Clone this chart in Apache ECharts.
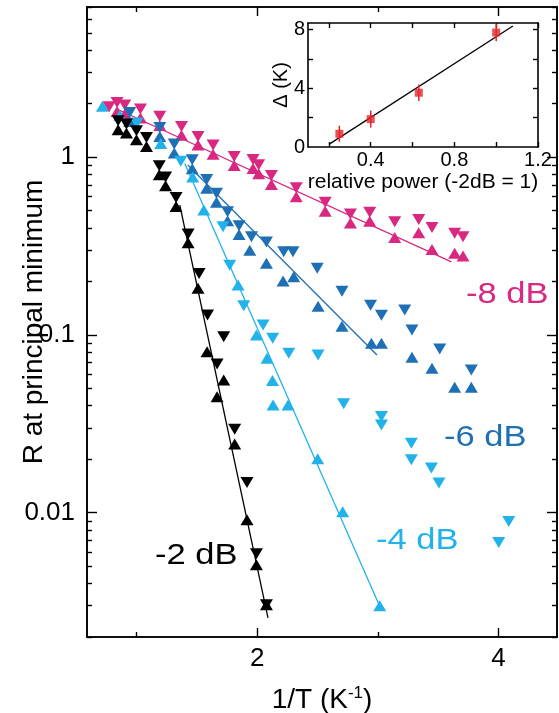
<!DOCTYPE html>
<html><head><meta charset="utf-8">
<script src="https://cdn.jsdelivr.net/npm/echarts@6/dist/echarts.min.js"></script>
<style>html,body{margin:0;padding:0;background:#fff}#c{width:559px;height:713px}</style>
</head><body><div id="c"></div>
<script>
// ---- main panel data (x = 1/T in 1/K, y = R at principal minimum) ----
const pinkDownX = [0.773,0.839,0.903,1.033,1.193,1.373,1.510,1.635,1.810,1.966,2.013,2.118,2.324,2.564,2.773,2.933,3.140,3.339,3.449,3.637,3.706];
const pinkDownY = [1.92,2.03,1.97,1.87,1.70,1.49,1.31,1.17,1.01,0.972,0.908,0.790,0.674,0.559,0.480,0.490,0.433,0.447,0.403,0.373,0.357];
const pinkUpX = [0.839,0.903,1.033,1.193,1.373,1.510,1.635,1.810,1.966,2.013,2.118,2.324,2.564,2.773,2.933,3.140,3.339,3.449,3.637,3.706];
const pinkUpY = [1.81,1.75,1.66,1.51,1.33,1.17,1.04,0.899,0.865,0.808,0.703,0.600,0.497,0.427,0.436,0.354,0.376,0.303,0.288,0.278];
const pinkFitX = [0.85, 3.61];
const pinkFitY = [1.85, 0.258];

const blueDownX = [0.944,1.193,1.313,1.462,1.582,1.663,1.755,1.850,1.953,2.077,2.220,2.297,2.498,2.703,2.940,3.030,3.223,3.283,3.513,3.775];
const blueDownY = [1.785,1.470,1.186,0.968,0.750,0.628,0.493,0.412,0.357,0.334,0.294,0.294,0.237,0.176,0.147,0.129,0.138,0.1067,0.0834,0.0636];
const blueUpX = [0.944,1.193,1.313,1.462,1.582,1.663,1.755,1.850,1.939,2.077,2.215,2.303,2.505,2.703,2.947,3.030,3.283,3.449,3.637,3.775];
const blueUpY = [1.589,1.309,1.056,0.862,0.668,0.559,0.439,0.367,0.300,0.253,0.201,0.2126,0.145,0.1119,0.0898,0.0898,0.0749,0.0650,0.0508,0.0508];
const blueFitX = [1.425, 2.993];
const blueFitY = [0.905, 0.0772];

const cyanDownX = [1.005,1.367,1.717,1.773,1.889,2.049,2.129,2.262,2.505,2.717,3.030,3.030,3.278,3.278,3.444,3.507,4.085,4.002];
const cyanDownY = [1.558,0.950,0.406,0.247,0.146,0.1138,0.0958,0.0789,0.0772,0.041,0.0348,0.0312,0.0246,0.0199,0.01783,0.01468,0.00894,0.00681];
const cyanUpX = [0.718,0.862,1.201,1.466,1.558,1.842,1.994,2.082,2.127,2.132,2.256,2.502,2.709,3.016];
const cyanUpY = [1.934,1.722,1.194,0.775,0.504,0.191,0.100,0.0740,0.0554,0.0404,0.0404,0.0201,0.01013,0.0030];
const cyanFitX = [1.40, 3.016];
const cyanFitY = [0.922, 0.00298];

const blackDownX = [0.848,0.917,1.000,1.083,1.189,1.241,1.328,1.428,1.519,1.589,1.723,1.668,1.814,1.916,1.994,2.077];
const blackDownY = [1.604,1.536,1.409,1.292,0.896,0.775,0.594,0.370,0.222,0.1296,0.0978,0.0687,0.02953,0.01480,0.00588,0.00304];
const blackUpX = [0.848,0.917,1.000,1.083,1.189,1.241,1.328,1.428,1.510,1.585,1.723,1.668,1.814,1.916,1.994,2.077];
const blackUpY = [1.427,1.368,1.254,1.150,0.797,0.690,0.529,0.330,0.183,0.0806,0.0559,0.0450,0.0244,0.00913,0.0051,0.00304];
const blackFitX = [1.359, 2.090];
const blackFitY = [0.537, 0.00256];

const seriesNames = ['-8 dB', '-6 dB', '-4 dB', '-2 dB'];

// main axis ticks
const xMajorTicks = [2, 4];
const xMinorTicks = [1, 3];
const yMajorTicks = [0.01, 0.1, 1];
const yMinorTicks = [0.002,0.003,0.004,0.005,0.006,0.007,0.008,0.009,0.02,0.03,0.04,0.05,0.06,0.07,0.08,0.09,0.2,0.3,0.4,0.5,0.6,0.7,0.8,0.9,2,3,4,5,6,7];

// ---- inset data ----
const powerX = [0.25, 0.40, 0.63, 1.00];
const deltaY = [0.9, 1.9, 3.7, 7.8];
const deltaErr = [0.55, 0.58, 0.56, 0.6];
const deltaFitX = [0.2, 1.08];
const deltaFitY = [0.18, 8.25];
const insetXTicks = [0.2,0.4,0.6,0.8,1.0,1.2];
const insetXLabels = [0.4,0.8,1.2];
const insetYTicks = [2,4,6,8];
const insetYLabels = [0,4,8];

const PINK = '#d8287f', BLUE = '#1f6fb5', CYAN = '#22b2ea', BLACK = '#000000', RED = '#e3262c';
const FONT = 'Liberation Sans';

const zip = (xs, ys) => xs.map((x, i) => [x, ys[i]]);

function xAx(grid, pos, min, max, ticks, len, labels, extra) {
  return Object.assign({
    type: 'value', gridIndex: grid, position: pos, min: min, max: max,
    axisLine: {show: true, onZero: false, lineStyle: {color: '#000', width: 1.6}},
    axisTick: {show: true, inside: true, length: len, customValues: ticks, lineStyle: {color: '#000', width: 1.4}},
    axisLabel: labels ? {show: true, customValues: labels, color: '#000', fontFamily: FONT, fontSize: 26, margin: 9, formatter: v => String(v)} : {show: false},
    splitLine: {show: false}, nameMoveOverlap: false
  }, extra || {});
}
function yAx(grid, pos, type, min, max, ticks, len, labels, extra) {
  return Object.assign({
    type: type, gridIndex: grid, position: pos, min: min, max: max, logBase: 10,
    axisLine: {show: true, onZero: false, lineStyle: {color: '#000', width: 1.6}},
    axisTick: {show: true, inside: true, length: len, customValues: ticks, lineStyle: {color: '#000', width: 1.4}},
    axisLabel: labels ? {show: true, customValues: labels, color: '#000', fontFamily: FONT, fontSize: 26, margin: 12, formatter: v => String(v)} : {show: false},
    splitLine: {show: false}, minorTick: {show: false}, nameMoveOverlap: false
  }, extra || {});
}

const XMIN = 0.59, XMAX = 4.485, YMIN = 0.002, YMAX = 7;

const xAxes = [
  xAx(0, 'bottom', XMIN, XMAX, xMajorTicks, 9, xMajorTicks, {
    name: '1/T (K{sup|-1})', nameLocation: 'middle', nameGap: 48,
    nameTextStyle: {color: '#000', fontFamily: FONT, fontSize: 28, rich: {sup: {fontFamily: FONT, fontSize: 17, color: '#000', padding: [0, 0, 14, 0]}}}
  }),
  xAx(0, 'bottom', XMIN, XMAX, xMinorTicks, 5, null),
  xAx(0, 'top', XMIN, XMAX, xMajorTicks, 9, null),
  xAx(0, 'top', XMIN, XMAX, xMinorTicks, 5, null),
  xAx(1, 'bottom', 0.1, 1.2, insetXTicks, 5, insetXLabels, {
    name: 'relative power (-2dB = 1)', nameLocation: 'middle', nameGap: 25,
    nameTextStyle: {color: '#000', fontFamily: FONT, fontSize: 21}
  }),
  xAx(1, 'top', 0.1, 1.2, insetXTicks, 5, null)
];
xAxes[4].axisLabel.fontSize = 20; xAxes[4].axisLabel.margin = 3;

const yAxes = [
  yAx(0, 'left', 'log', YMIN, YMAX, yMajorTicks, 10, yMajorTicks, {
    name: 'R at principal minimum', nameLocation: 'middle', nameGap: 39,
    nameTextStyle: {color: '#000', fontFamily: FONT, fontSize: 28}
  }),
  yAx(0, 'left', 'log', YMIN, YMAX, yMinorTicks, 5, null),
  yAx(0, 'right', 'log', YMIN, YMAX, yMajorTicks, 10, null),
  yAx(0, 'right', 'log', YMIN, YMAX, yMinorTicks, 5, null),
  yAx(1, 'left', 'value', 0, 8.45, insetYTicks, 5, insetYLabels, {
    name: 'Δ (K)', nameLocation: 'middle', nameGap: 17,
    nameTextStyle: {color: '#000', fontFamily: FONT, fontSize: 20}
  }),
  yAx(1, 'right', 'value', 0, 8.45, insetYTicks, 5, null)
];
yAxes[4].axisLabel.fontSize = 20; yAxes[4].axisLabel.margin = 3;

function tri(name, xs, ys, color, down) {
  return {
    type: 'scatter', name: name, xAxisIndex: 0, yAxisIndex: 0,
    data: zip(xs, ys), symbol: 'triangle', symbolSize: [13, 11], symbolRotate: down ? 180 : 0,
    itemStyle: {color: color, opacity: 1}, z: 3, silent: true
  };
}
function fit(name, xs, ys, color, xi, yi) {
  return {
    type: 'line', name: name, xAxisIndex: xi || 0, yAxisIndex: yi || 0,
    data: zip(xs, ys), symbol: 'none', lineStyle: {color: color, width: 1.3}, z: 2, silent: true
  };
}

const series = [
  fit(seriesNames[0], pinkFitX, pinkFitY, PINK),
  fit(seriesNames[1], blueFitX, blueFitY, BLUE),
  fit(seriesNames[2], cyanFitX, cyanFitY, CYAN),
  fit(seriesNames[3], blackFitX, blackFitY, BLACK),
  tri(seriesNames[0], pinkDownX, pinkDownY, PINK, true),
  tri(seriesNames[0], pinkUpX, pinkUpY, PINK, false),
  tri(seriesNames[1], blueDownX, blueDownY, BLUE, true),
  tri(seriesNames[1], blueUpX, blueUpY, BLUE, false),
  tri(seriesNames[2], cyanDownX, cyanDownY, CYAN, true),
  tri(seriesNames[2], cyanUpX, cyanUpY, CYAN, false),
  tri(seriesNames[3], blackDownX, blackDownY, BLACK, true),
  tri(seriesNames[3], blackUpX, blackUpY, BLACK, false),
  fit('fit', deltaFitX, deltaFitY, '#000', 4, 4),
  {
    type: 'custom', xAxisIndex: 4, yAxisIndex: 4, silent: true, z: 3,
    data: powerX.map((x, i) => [x, deltaY[i], deltaErr[i]]),
    renderItem: function (params, api) {
      const x = api.value(0), y = api.value(1), e = api.value(2);
      const p1 = api.coord([x, y - e]), p2 = api.coord([x, y + e]);
      return {type: 'line', shape: {x1: p1[0], y1: p1[1], x2: p2[0], y2: p2[1]}, style: {stroke: RED, lineWidth: 1.5}};
    }
  },
  {
    type: 'scatter', xAxisIndex: 4, yAxisIndex: 4, silent: true, z: 4,
    data: zip(powerX, deltaY), symbol: 'rect', symbolSize: 8, itemStyle: {color: RED}
  }
];

function lbl(text, x, y, color) {
  return {type: 'text', x: x, y: y, scaleX: 1.15, z: 10,
    style: {text: text, fill: color, fontFamily: FONT, fontSize: 30, textVerticalAlign: 'middle', verticalAlign: 'middle'}};
}

const chart = echarts.init(document.getElementById('c'), null, {renderer: 'canvas'});
chart.setOption({
  animation: false,
  backgroundColor: '#fff',
  grid: [
    {left: 87, top: 7, width: 470, height: 630, containLabel: false, outerBoundsMode: 'none'},
    {left: 308, top: 23, width: 230, height: 124, containLabel: false, outerBoundsMode: 'none', show: true, backgroundColor: '#fff', borderWidth: 0}
  ],
  xAxis: xAxes,
  yAxis: yAxes,
  series: series,
  graphic: [
    lbl(seriesNames[0], 466, 295, PINK),
    lbl(seriesNames[1], 444, 438, BLUE),
    lbl(seriesNames[2], 376, 541, CYAN),
    lbl(seriesNames[3], 155, 556, BLACK)
  ]
});
</script>
</body></html>
